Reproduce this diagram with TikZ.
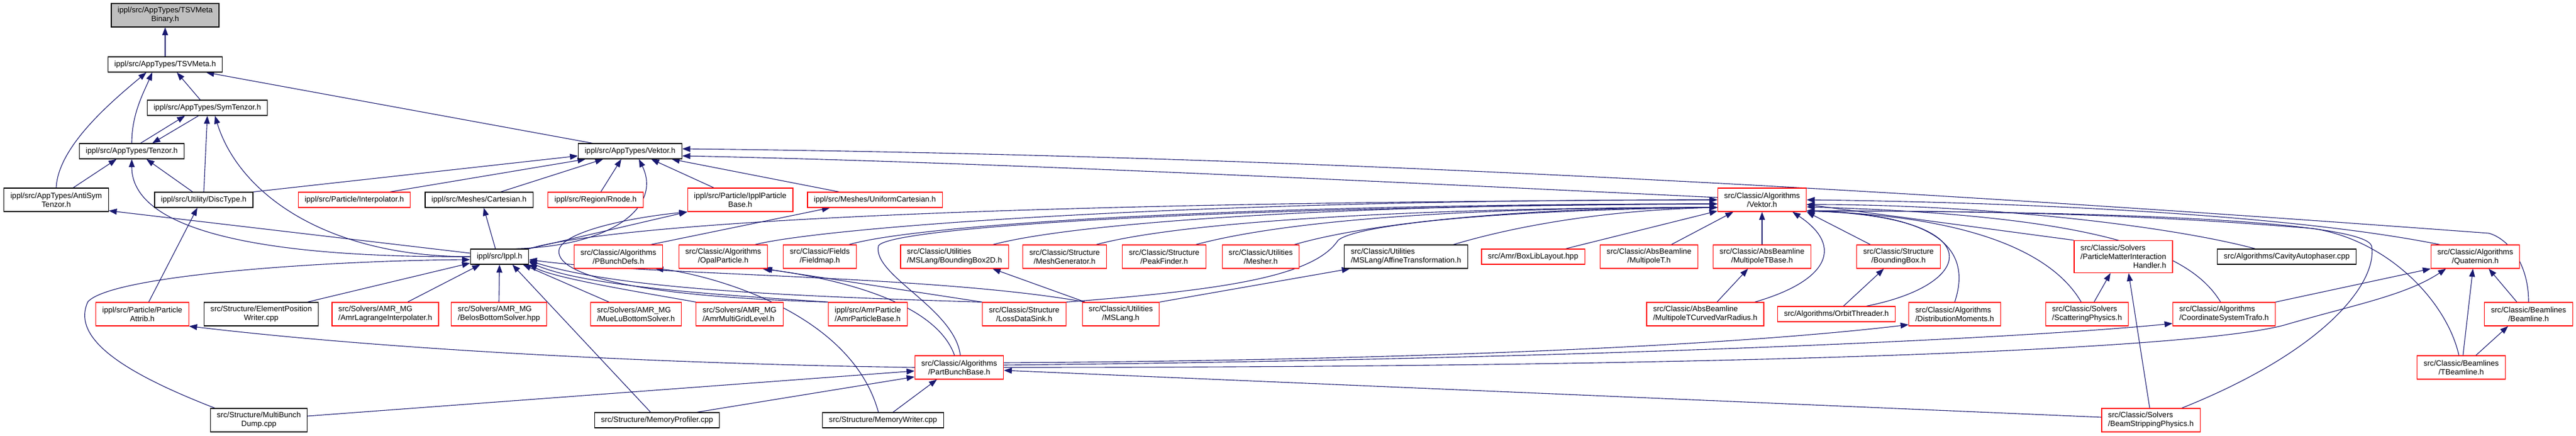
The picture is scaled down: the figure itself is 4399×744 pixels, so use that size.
\documentclass[tikz,border=0pt]{standalone}
\usepackage{fontspec}
\setmainfont{Liberation Sans}
\usetikzlibrary{arrows.meta}
\definecolor{depblue}{HTML}{191970}
\pgfdeclarelayer{bg}
\pgfsetlayers{bg,main}
\newcommand\centrelast[1]{\hskip0pt plus1filll#1\hskip0pt plus1filll}

\begin{document}
\begin{tikzpicture}[x=0.25mm, y=-0.25mm,
  file/.style={draw=black, fill=white, line width=0.3mm, inner xsep=2.75mm, inner ysep=1mm,
    minimum height=6.5mm, align=center, font=\fontsize{9.35}{10.67}\selectfont},
  trunc/.style={file, draw=red},
  root/.style={file, fill=black!25},
  two/.style={minimum height=10mm},
  three/.style={minimum height=13.75mm},
  lft/.style={align=left},
  dep/.style={draw=depblue, line width=0.28mm, -{Triangle[length=3.4mm, width=2.5mm]}}]
  \useasboundingbox (0,0) rectangle (4399,744);

  % AppTypes
  \node[root, two] (tsvmb) at (282,26) {ippl/src/AppTypes/TSVMeta\\Binary.h};
  \node[file] (tsvmeta) at (282,110) {ippl/src/AppTypes/TSVMeta.h};
  \node[file] (symtenzor) at (354,184) {ippl/src/AppTypes/SymTenzor.h};
  \node[file] (tenzor) at (225,258) {ippl/src/AppTypes/Tenzor.h};
  \node[file] (vektor) at (1076,258) {ippl/src/AppTypes/Vektor.h};

  % fourth row
  \node[file, two] (antisym) at (96,341) {ippl/src/AppTypes/AntiSym\\Tenzor.h};
  \node[file] (disctype) at (348,341) {ippl/src/Utility/DiscType.h};
  \node[trunc] (interp) at (605,341) {ippl/src/Particle/Interpolator.h};
  \node[file] (cartesian) at (818,341) {ippl/src/Meshes/Cartesian.h};
  \node[trunc] (rnode) at (1017,341) {ippl/src/Region/Rnode.h};
  \node[trunc, two] (ipb) at (1264,341) {ippl/src/Particle/IpplParticle\\Base.h};
  \node[trunc] (unicart) at (1494,341) {ippl/src/Meshes/UniformCartesian.h};
  \node[trunc, two] (algvektor) at (3009,341) {src/Classic/Algorithms\\/Vektor.h};

  % fifth row
  \node[file] (ippl) at (853,438) {ippl/src/Ippl.h};
  \node[trunc, two] (pbunchdefs) at (1056,438) {src/Classic/Algorithms\\/PBunchDefs.h};
  \node[trunc, two] (opalparticle) at (1235,438) {src/Classic/Algorithms\\/OpalParticle.h};
  \node[trunc, two] (fieldmap) at (1400,438) {src/Classic/Fields\\/Fieldmap.h};
  \node[trunc, two, lft] (bbox2d) at (1630,438) {src/Classic/Utilities\\/MSLang/BoundingBox2D.h};
  \node[trunc, two] (meshgen) at (1818,438) {src/Classic/Structure\\/MeshGenerator.h};
  \node[trunc, two] (peakfinder) at (1988,438) {src/Classic/Structure\\/PeakFinder.h};
  \node[trunc, two] (mesher) at (2153,438) {src/Classic/Utilities\\/Mesher.h};
  \node[file, two, lft] (affine) at (2401,438) {src/Classic/Utilities\\/MSLang/AffineTransformation.h};
  \node[trunc] (boxlib) at (2618,438) {src/Amr/BoxLibLayout.hpp};
  \node[trunc, two] (multipolet) at (2816,438) {src/Classic/AbsBeamline\\/MultipoleT.h};
  \node[trunc, two] (multipoletbase) at (3009,438) {src/Classic/AbsBeamline\\/MultipoleTBase.h};
  \node[trunc, two] (bbox) at (3242,438) {src/Classic/Structure\\/BoundingBox.h};
  \node[trunc, three, lft] (pmih) at (3626,438) {src/Classic/Solvers\\/ParticleMatterInteraction\\\centrelast{Handler.h}};
  \node[file] (cavity) at (3905,438) {src/Algorithms/CavityAutophaser.cpp};
  \node[trunc, two] (quaternion) at (4227,438) {src/Classic/Algorithms\\/Quaternion.h};

  % sixth row
  \node[trunc, two] (partattrib) at (243,536) {ippl/src/Particle/Particle\\Attrib.h};
  \node[file, two] (epw) at (446,536) {src/Structure/ElementPosition\\Writer.cpp};
  \node[trunc, two, lft] (amrlagrange) at (658,536) {src/Solvers/AMR\_MG\\/AmrLagrangeInterpolater.h};
  \node[trunc, two, lft] (belos) at (852,536) {src/Solvers/AMR\_MG\\/BelosBottomSolver.hpp};
  \node[trunc, two, lft] (muelu) at (1086,536) {src/Solvers/AMR\_MG\\/MueLuBottomSolver.h};
  \node[trunc, two, lft] (amrmgl) at (1263,536) {src/Solvers/AMR\_MG\\/AmrMultiGridLevel.h};
  \node[trunc, two, lft] (amrpb) at (1482,536) {ippl/src/AmrParticle\\/AmrParticleBase.h};
  \node[trunc, two] (lossds) at (1749,536) {src/Classic/Structure\\/LossDataSink.h};
  \node[trunc, two] (mslang) at (1914,536) {src/Classic/Utilities\\/MSLang.h};
  \node[trunc, two, lft] (mtcvr) at (2912,536) {src/Classic/AbsBeamline\\/MultipoleTCurvedVarRadius.h};
  \node[trunc] (orbit) at (3136,536) {src/Algorithms/OrbitThreader.h};
  \node[trunc, two, lft] (distmom) at (3338,536) {src/Classic/Algorithms\\/DistributionMoments.h};
  \node[trunc, two, lft] (scatter) at (3564,536) {src/Classic/Solvers\\/ScatteringPhysics.h};
  \node[trunc, two, lft] (cst) at (3798,536) {src/Classic/Algorithms\\/CoordinateSystemTrafo.h};
  \node[trunc, two] (beamline) at (4318,536) {src/Classic/Beamlines\\/Beamline.h};

  % bottom rows
  \node[trunc, two] (pbb) at (1638,627) {src/Classic/Algorithms\\/PartBunchBase.h};
  \node[trunc, two] (tbeamline) at (4203,627) {src/Classic/Beamlines\\/TBeamline.h};
  \node[file, two] (mbdump) at (442,717) {src/Structure/MultiBunch\\Dump.cpp};
  \node[file] (memprof) at (1122,717) {src/Structure/MemoryProfiler.cpp};
  \node[file] (memwriter) at (1508,717) {src/Structure/MemoryWriter.cpp};
  \node[trunc, two, lft] (bsp) at (3673,717) {src/Classic/Solvers\\/BeamStrippingPhysics.h};

  \begin{pgfonlayer}{bg}
    % AppTypes
    \draw[dep] (tsvmeta) -- (tsvmb);
    \draw[dep] ([xshift=-3mm]symtenzor.north) -- ([xshift=5mm]tsvmeta.south);
    \draw[dep] (tenzor.north) .. controls +(0,-50) and +(-15,35) .. ([xshift=-5.5mm]tsvmeta.south);
    \draw[dep] (antisym.north) .. controls +(3,-70) and +(-60,50) .. ([xshift=-8mm]tsvmeta.south);
    \draw[dep] ([xshift=-16mm]vektor.north) -- ([xshift=17.5mm]tsvmeta.south);
    \draw[dep] ([xshift=3.75mm]tenzor.north) -- ([xshift=-9.5mm]symtenzor.south);
    \draw[dep] ([xshift=-3.75mm]symtenzor.south) -- ([xshift=8.75mm]tenzor.north);
    \draw[dep] (disctype.north) -- (symtenzor.south);
    \draw[dep] ([xshift=7.25mm]antisym.north) -- ([xshift=-6.5mm]tenzor.south);
    \draw[dep] ([xshift=-4.75mm]disctype.north) -- ([xshift=6.25mm]tenzor.south);
    \draw[dep] ([xshift=2.75mm]partattrib.north) -- ([xshift=-2.75mm]disctype.south);

    % Ippl.h upwards
    \draw[dep] (ippl.west) .. controls +(-250,0) and +(40,130) .. ([xshift=3.25mm]symtenzor.south);
    \draw[dep] (ippl.west) .. controls +(-400,2) and +(0,110) .. (tenzor.south);
    \draw[dep] ([yshift=1.5mm]ippl.west) -- ([yshift=0.5mm]antisym.south east);
    \draw[dep] ([xshift=-1.75mm]ippl.north) -- ([xshift=2mm]cartesian.south);
    \draw[dep] (ippl.north east) -- (ipb.south west);
    \draw[dep] ([xshift=7mm]ippl.north) .. controls +(169,-5) and +(39,79) .. ([xshift=3.75mm]vektor.south);
    \draw[dep] (ippl.north east) .. controls +(100,-30) and +(-1500,5) .. (algvektor.west);

    % into ippl/src/AppTypes/Vektor.h
    \draw[dep] (disctype.north east) -- ([yshift=-2mm]vektor.west);
    \draw[dep] ([xshift=15.25mm]interp.north) -- ([xshift=-19mm]vektor.south);
    \draw[dep] ([xshift=9.25mm]cartesian.north) -- ([xshift=-11.5mm]vektor.south);
    \draw[dep] ([xshift=2.25mm]rnode.north) -- ([xshift=-3.75mm]vektor.south);
    \draw[dep] ([xshift=-11.25mm]ipb.north) -- ([xshift=9mm]vektor.south);
    \draw[dep] ([xshift=-15.25mm]unicart.north) -- ([xshift=17.75mm]vektor.south);
    \draw[dep] ([yshift=1mm]algvektor.west) .. controls +(-531,-25) and +(534,11) .. ([yshift=-2mm]vektor.east);
    \draw[dep] (beamline.north) .. controls +(0,-70) and +(30,8) .. (4250,398)
      .. controls +(-1050,-78) and +(1034,11) .. ([yshift=1mm]vektor.east);

    % into Ippl.h
    \draw[dep] ([xshift=-18.75mm]mbdump.north) .. controls +(-147,-57) and +(-30,65) .. (150,515)
      .. controls +(40,-45) and +(-253,2) .. ([yshift=-1.25mm]ippl.west);
    \draw[dep] ([xshift=19.75mm]epw.north) -- ([yshift=-2.75mm]ippl.west);
    \draw[dep] ([xshift=9.5mm]amrlagrange.north) -- ([xshift=-8.25mm]ippl.south);
    \draw[dep] (belos.north) -- (ippl.south);
    \draw[dep] ([xshift=-2.75mm]memprof.north) -- ([xshift=5.5mm]ippl.south);
    \draw[dep] ([xshift=-11.5mm]muelu.north) -- ([xshift=10mm]ippl.south);
    \draw[dep] (amrmgl.north west) .. controls +(-90,-16) and +(47,24) .. (ippl.south east);
    \draw[dep] (amrpb.north west) .. controls +(-164,-11) and +(97,43) .. ([yshift=-2.25mm]ippl.east);
    \draw[dep] ([xshift=-18.25mm]lossds.north) .. controls +(-376,-11) and +(147,45) .. ([yshift=-1.75mm]ippl.east);
    \draw[dep] ([xshift=-15.25mm]mslang.north) .. controls +(-253,-46) and +(197,27) .. ([yshift=-1.25mm]ippl.east);

    % particles and structures
    \draw[dep] ([xshift=-5.25mm]pbunchdefs.north east) -- ([xshift=9.75mm]unicart.south west);
    \draw[dep] ([xshift=-2mm]memwriter.north) .. controls +(-50,-184) and +(60,5) .. ([xshift=15.75mm]pbunchdefs.south);
    \draw[dep] ([xshift=-2mm]pbb.north) .. controls +(-30,-85) and +(150,20) .. ([xshift=16.75mm]opalparticle.south);
    \draw[dep] (lossds.north west) -- ([xshift=17.5mm]opalparticle.south);
    \draw[dep] (amrpb.north west) .. controls +(-350,-10) and +(-10,40) .. (955,425)
      .. controls +(10,-30) and +(-100,10) .. (ipb.south west);
    \draw[dep] ([xshift=-15.25mm]mslang.north) -- ([xshift=16.25mm]bbox2d.south);
    \draw[dep] (mslang.north east) -- ([xshift=2.5mm]affine.south west);

    % into src/Classic/Algorithms/Vektor.h from the left
    \draw[dep] ([xshift=-5.5mm]opalparticle.north east) .. controls +(120,-30) and +(-900,0) .. (algvektor.west);
    \draw[dep] ([xshift=-3.25mm]fieldmap.north east) .. controls +(120,-35) and +(-800,0) .. ([yshift=-1.75mm]algvektor.west);
    \draw[dep] ([xshift=-6.75mm]bbox2d.north east) .. controls +(150,-40) and +(-600,0) .. ([yshift=-1.75mm]algvektor.west);
    \draw[dep] ([xshift=-4.5mm]meshgen.north east) .. controls +(150,-40) and +(-500,0) .. ([yshift=-3.25mm]algvektor.west);
    \draw[dep] ([xshift=-4.5mm]peakfinder.north east) .. controls +(150,-40) and +(-450,0) .. ([yshift=-3.25mm]algvektor.west);
    \draw[dep] ([xshift=-2.25mm]mesher.north east) .. controls +(120,-35) and +(-350,0) .. ([yshift=-3.25mm]algvektor.west);
    \draw[dep] ([xshift=-6.25mm]affine.north east) .. controls +(100,-30) and +(-200,5) .. ([yshift=-3.25mm]algvektor.west);
    \draw[dep] ([xshift=-8.25mm]boxlib.north east) -- ([yshift=-4.75mm]algvektor.west);
    \draw[dep] (lossds.north east) .. controls +(279,-21) and +(-40,60) .. (2285,410)
      .. controls +(30,-25) and +(-400,5) .. ([yshift=-3.25mm]algvektor.west);
    \draw[dep] ([xshift=0.5mm]pbb.north) .. controls +(-10,-80) and +(-10,50) .. (1500,420)
      .. controls +(10,-30) and +(-900,5) .. ([yshift=-1.75mm]algvektor.west);

    % into src/Classic/Algorithms/Vektor.h from below and the right
    \draw[dep] ([xshift=9.5mm]multipolet.north) -- ([xshift=-12.25mm]algvektor.south);
    \draw[dep] (multipoletbase) -- (algvektor);
    \draw[dep] ([xshift=5mm]mtcvr.north) -- ([xshift=-6mm]multipoletbase.south);
    \draw[dep] ([xshift=-4mm]mtcvr.north east) .. controls +(125,-36) and +(89,59) .. ([xshift=13mm]algvektor.south);
    \draw[dep] ([xshift=3mm]orbit.north) -- ([xshift=-6.25mm]bbox.south);
    \draw[dep] ([xshift=6mm]bbox.north west) -- (algvektor.south east);
    \draw[dep] ([xshift=12.75mm]orbit.north) .. controls +(193,-38) and +(314,10) .. ([yshift=-4.75mm]algvektor.east);
    \draw[dep] (distmom.north) .. controls +(32,-96) and +(214,5) .. ([yshift=-4.75mm]algvektor.east);
    \draw[dep] ([xshift=-2.5mm]scatter.north) .. controls +(-44,-76) and +(300,10) .. ([yshift=-4.75mm]algvektor.east);
    \draw[dep] ([xshift=-1.5mm]cst.north) .. controls +(-52,-86) and +(500,15) .. ([yshift=-3mm]algvektor.east);
    \draw[dep] ([xshift=-13.5mm]cavity.north) .. controls +(-150,-40) and +(300,0) .. ([yshift=-2mm]algvektor.east);
    \draw[dep] (pmih.north west) -- ([yshift=-2mm]algvektor.east);
    \draw[dep] ([xshift=4mm]quaternion.north west) .. controls +(-250,-50) and +(400,5) .. (algvektor.east);
    \draw[dep] ([xshift=-1mm]tbeamline.north) .. controls +(-20,-90) and +(130,20) .. (3950,390)
      .. controls +(-300,-25) and +(300,0) .. ([yshift=-4.75mm]algvektor.east);
    \draw[dep] ([xshift=-8mm]bsp.north east) .. controls +(250,-100) and +(10,60) .. (4050,420)
      .. controls +(-10,-40) and +(564,0) .. ([yshift=-4.75mm]algvektor.east);

    % solvers, quaternion and beamlines
    \draw[dep] ([xshift=3mm]scatter.north) -- ([xshift=-5.5mm]pmih.south);
    \draw[dep] ([xshift=-0.5mm]bsp.north) -- ([xshift=2.25mm]pmih.south);
    \draw[dep] (cst.north east) -- (quaternion.south west);
    \draw[dep] ([xshift=0.75mm]tbeamline.north) -- ([xshift=-1mm]quaternion.south);
    \draw[dep] ([xshift=-5mm]beamline.north) -- ([xshift=5.75mm]quaternion.south);
    \draw[dep] ([xshift=6.25mm]tbeamline.north) -- ([xshift=-8.75mm]beamline.south);

    % PartBunchBase.h
    \draw[dep] (pbb.west) .. controls +(-360,-5) and +(380,45) .. (partattrib.south east);
    \draw[dep] ([yshift=1.75mm]mbdump.east) -- ([yshift=-1.5mm]pbb.west);
    \draw[dep] ([xshift=17mm]memprof.north) -- ([yshift=-4mm]pbb.west);
    \draw[dep] ([xshift=4.25mm]memwriter.north) -- ([xshift=-9.5mm]pbb.south);
    \draw[dep] ([yshift=1.25mm]bsp.west) -- ([yshift=-1.25mm]pbb.east);
    \draw[dep] ([yshift=2mm]pbb.east) .. controls +(800,-5) and +(-250,30) .. ([yshift=-4.5mm]distmom.west);
    \draw[dep] ([yshift=1mm]pbb.east) .. controls +(1000,-10) and +(-250,25) .. ([yshift=-4mm]cst.west);
    \draw[dep] (pbb.east) .. controls +(1300,0) and +(-150,40) .. (3900,555)
      .. controls +(120,-35) and +(-70,46) .. ([xshift=-12.5mm]quaternion.south);
  \end{pgfonlayer}
\end{tikzpicture}
\end{document}
